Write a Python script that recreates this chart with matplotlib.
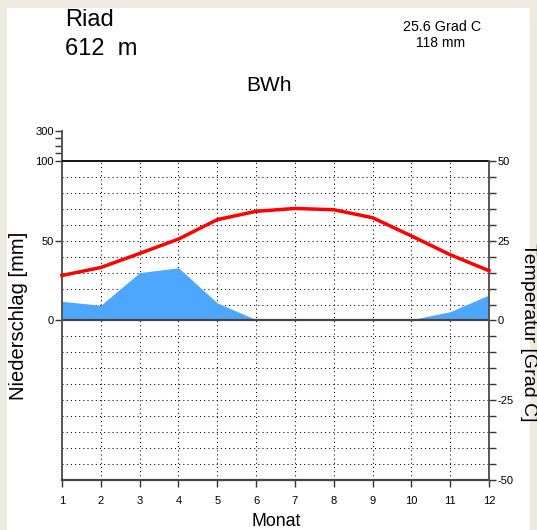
import matplotlib
matplotlib.use("Agg")
import matplotlib.pyplot as plt
from matplotlib.patches import Rectangle

plt.rcParams['font.family'] = ['Liberation Sans', 'DejaVu Sans']
plt.rcParams['lines.scale_dashes'] = False

# ---- data ----
months = [1, 2, 3, 4, 5, 6, 7, 8, 9, 10, 11, 12]
temperature = [14.1, 16.6, 21.0, 25.5, 31.6, 34.2, 35.1, 34.7, 32.2, 26.5, 20.6, 15.6]
precipitation = [12, 9.5, 30, 33, 11, 0.5, 0.3, 0, 0, 0.5, 5.5, 16]
precip_ticks = [0, 50, 100, 150, 200, 250, 300]
precip_tick_labels = ['0', '50', '100', '', '', '', '300']
temp_ticks = list(range(-50, 51, 5))
temp_tick_labels = ['-50', '', '', '', '', '-25', '', '', '', '', '0',
                    '', '', '', '', '25', '', '', '', '', '50']
station = 'Riad'
altitude = '612  m'
climate_class = 'BWh'
mean_temp_text = '25.6 Grad C'
total_precip_text = '118 mm'

W, H = 537, 530
fig = plt.figure(figsize=(W / 100, H / 100), dpi=100, facecolor='#eeeadf')
fig.patches.append(Rectangle((7 / W, 0), (530 - 7) / W, (530 - 8) / H,
                             transform=fig.transFigure, facecolor='white',
                             edgecolor='none', zorder=-10))

def fx(x):
    return x / W

def fy(y):
    return 1 - y / H

# upper compressed part of precipitation axis: 100..300 mm over 30 px (1.6 px per mm below 100)
def pmap(p):
    return p if p <= 100 else 100 + (p - 100) * (30 / 1.6) / 200

top_px, bot_px, left_px, right_px = 131, 480, 62, 489
ax = fig.add_axes([fx(left_px), fy(bot_px), (right_px - left_px) / W, (bot_px - top_px) / H])
ax.set_facecolor('none')
ymax = pmap(300)
ax.set_xlim(1, 12)
ax.set_ylim(-100, ymax)

ax2 = ax.twinx()
ax2.set_ylim(-50, ymax / 2)

# precipitation area
ax.fill_between(months, 0, [pmap(p) for p in precipitation], color='#4ea7ff',
                linewidth=0, zorder=2)

# grid
dot = (0, (0.75, 2.25))
for g in range(-90, 100, 10):
    if g != 0:
        ax.axhline(g, color='black', lw=0.75, ls=dot, zorder=1)
for m in months[1:-1]:
    ax.plot([m, m], [-100, 100], color='black', lw=0.75, ls=dot, zorder=1)

ax.axhline(100, color='black', lw=1.3, zorder=3)
ax.axhline(0, color='#444444', lw=1.6, zorder=3)
ax.axhline(-100, color='#444444', lw=1.6, zorder=3, clip_on=False)

# temperature line
ax2.plot(months, temperature, color='#ff0000', lw=2.5, zorder=4, clip_on=False)

# spines
for a in (ax, ax2):
    a.spines['top'].set_visible(False)
    a.spines['bottom'].set_visible(False)
ax.spines['right'].set_visible(False)
ax2.spines['left'].set_visible(False)
ax.spines['left'].set_color('#555555')
ax.spines['left'].set_linewidth(1.4)
ax2.spines['right'].set_color('#555555')
ax2.spines['right'].set_linewidth(1.4)
ax2.spines['right'].set_bounds(-50, 50)
ax.spines['left'].set_bounds(-100, ymax)

# ticks
ax.set_yticks([pmap(p) for p in precip_ticks])
ax.set_yticklabels(precip_tick_labels)
ax.tick_params(axis='y', direction='out', length=5, width=1.0, color='#333333',
               pad=1, labelsize=8)
ax2.set_yticks(temp_ticks)
ax2.set_yticklabels(temp_tick_labels)
ax2.tick_params(axis='y', direction='out', length=5, width=1.0, color='#333333',
                pad=1, labelsize=8)
ax.set_xticks(months)
ax.set_xticklabels([str(m) for m in months])
ax.tick_params(axis='x', direction='out', length=5, width=1.0, color='#333333',
               pad=6.5, labelsize=8)

# axis labels
fig.text(fx(19), fy(316), 'Niederschlag [mm]', rotation=90, ha='center', va='center',
         fontsize=14.5)
fig.text(fx(529), fy(332), 'Temperatur [Grad C]', rotation=270, ha='center', va='center',
         fontsize=14)
fig.text(fx(276), fy(521), 'Monat', ha='center', va='center', fontsize=12.8)

# header texts
fig.text(fx(65), fy(26), station, ha='left', va='baseline', fontsize=17)
fig.text(fx(65), fy(55), altitude, ha='left', va='baseline', fontsize=17)
fig.text(fx(269), fy(91), climate_class, ha='center', va='baseline', fontsize=15)
fig.text(fx(403), fy(31), mean_temp_text, ha='left', va='baseline', fontsize=10.3)
fig.text(fx(416), fy(47), total_precip_text, ha='left', va='baseline', fontsize=10)

fig.savefig('out.png', dpi=100, facecolor=fig.get_facecolor())
